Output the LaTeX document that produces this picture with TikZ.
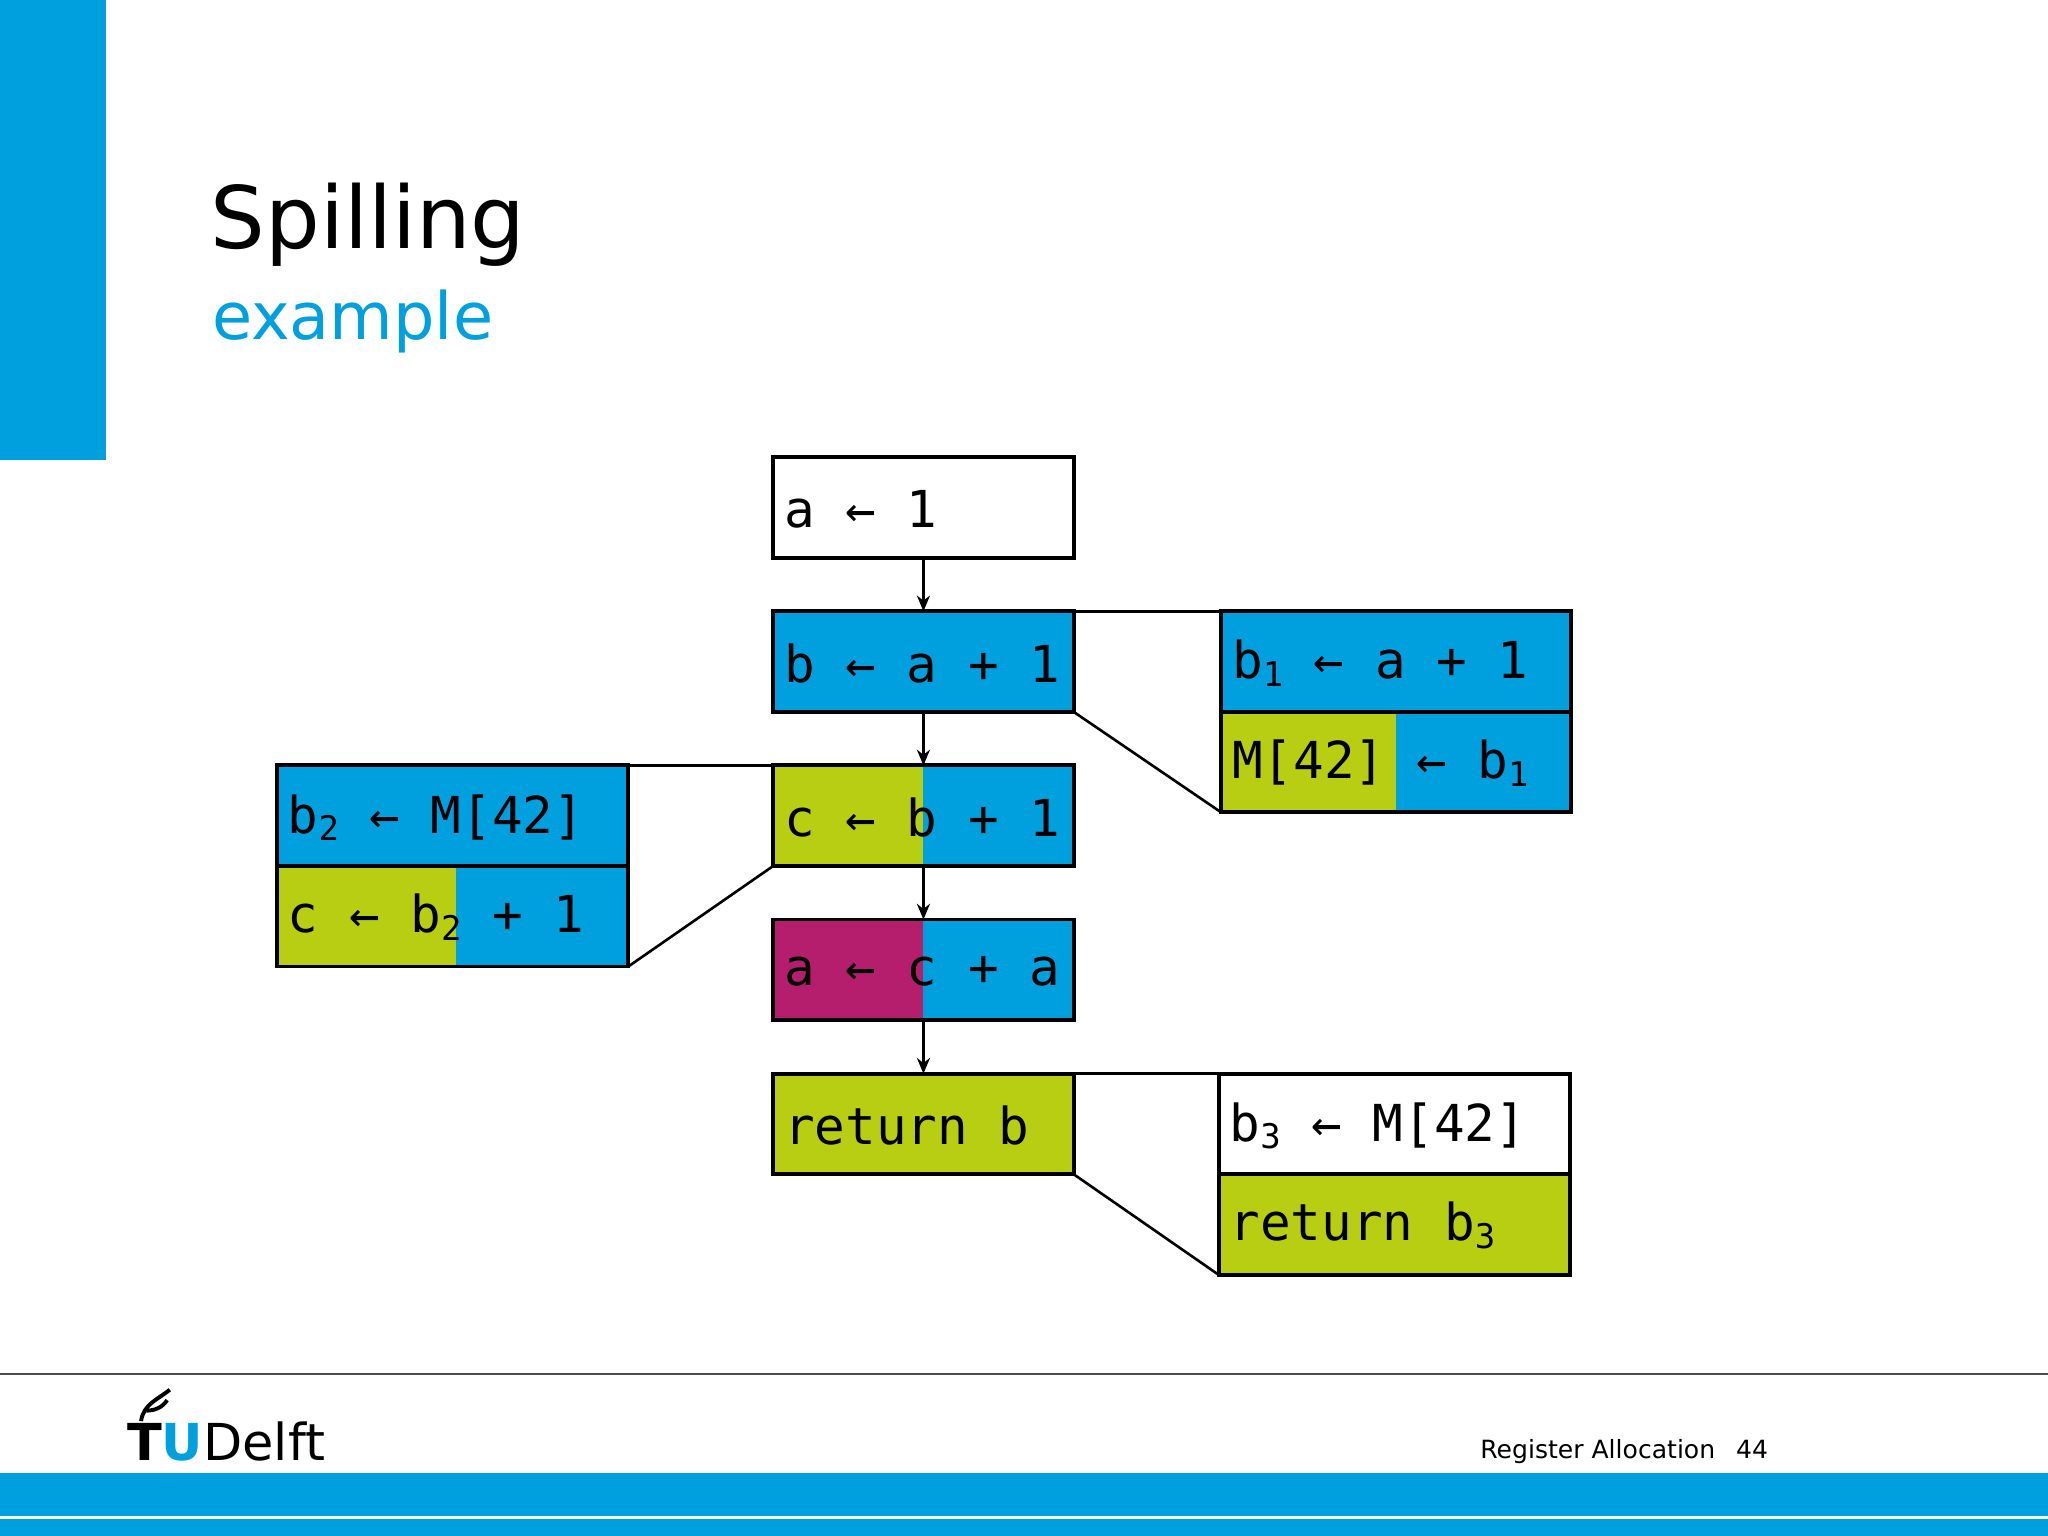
\documentclass[tikz,border=0pt]{standalone}
\usepackage{fontspec}
\setmainfont{DejaVu Sans}
\setmonofont{DejaVu Sans Mono}
\definecolor{tublue}{HTML}{00A0DE}
\definecolor{tugreen}{HTML}{B8CE12}
\definecolor{tumag}{HTML}{B41E6C}
\newcommand{\mysub}[1]{{\fontsize{13}{13}\selectfont\raisebox{-3pt}{#1}}}
\tikzset{
  cell/.style={draw=black,line width=1.5pt},
  code/.style={anchor=west,inner sep=0pt,font=\ttfamily\fontsize{19.5}{19.5}\selectfont},
  flow/.style={-{Stealth[length=6pt,width=5pt]},line width=1pt},
  link/.style={line width=1pt}
}
\usetikzlibrary{arrows.meta}
\begin{document}
\begin{tikzpicture}[x=0.5pt,y=-0.5pt]
\useasboundingbox (0,0) rectangle (1568,1176);
\fill[tublue] (0,0) rectangle (81,352);
\node[anchor=base west,inner sep=0pt,font=\fontsize{33}{33}\selectfont] (title) at (161,190) {Spilling};
\node[anchor=base west,inner sep=0pt,font=\fontsize{25}{25}\selectfont,text=tublue] (sub) at (162,260) {example};
% box 1
\draw[cell,fill=white] (592,350) rectangle (822,427);
\coordinate (b1t) at (707,350); \coordinate (b1b) at (707,427);
\node[code] (t1) at (600,390) {a ← 1};
% box 2
\draw[cell,fill=tublue] (592,468) rectangle (822,545);
\coordinate (b2t) at (707,468); \coordinate (b2b) at (707,545);
\node[code] (t2) at (600,508) {b ← a + 1};
% box 3
\fill[tugreen] (592,586) rectangle (707,663);
\fill[tublue] (707,586) rectangle (822,663);
\draw[cell] (592,586) rectangle (822,663);
\coordinate (b3t) at (707,586); \coordinate (b3b) at (707,663);
\node[code] (t3) at (600,626) {c ← b + 1};
% box 4
\fill[tumag] (592,704) rectangle (707,781);
\fill[tublue] (707,704) rectangle (822,781);
\draw[cell] (592,704) rectangle (822,781);
\coordinate (b4t) at (707,704); \coordinate (b4b) at (707,781);
\node[code] (t4) at (600,744) {a ← c + a};
% box 5
\draw[cell,fill=tugreen] (592,822) rectangle (822,899);
\coordinate (b5t) at (707,822);
\node[code] (t5) at (600,862) {return b};
\draw[flow] (b1b) -- (b2t);
\draw[flow] (b2b) -- (b3t);
\draw[flow] (b3b) -- (b4t);
\draw[flow] (b4b) -- (b5t);
% right upper
\draw[cell,fill=tublue] (935,468) rectangle (1203,545);
\node[code] (r1) at (943,508) {b\mysub{1} ← a + 1};
\fill[tugreen] (935,545) rectangle (1069,622);
\fill[tublue] (1069,545) rectangle (1203,622);
\draw[cell] (935,545) rectangle (1203,622);
\node[code] (r2) at (943,584) {M[42] ← b\mysub{1}};
\draw[link] (822,468) -- (935,468);
\draw[link] (822,545) -- (935,622);
% left
\draw[cell,fill=tublue] (212,586) rectangle (481,663);
\node[code] (l1) at (220,626) {b\mysub{2} ← M[42]};
\fill[tugreen] (212,663) rectangle (349,740);
\fill[tublue] (349,663) rectangle (481,740);
\draw[cell] (212,663) rectangle (481,740);
\node[code] (l2) at (220,702) {c ← b\mysub{2} + 1};
\draw[link] (481,586) -- (592,586);
\draw[link] (481,740) -- (592,663);
% right lower
\draw[cell,fill=white] (933,822) rectangle (1202,899);
\node[code] (s1) at (941,862) {b\mysub{3} ← M[42]};
\draw[cell,fill=tugreen] (933,899) rectangle (1202,976);
\node[code] (s2) at (941,938) {return b\mysub{3}};
\draw[link] (822,822) -- (933,822);
\draw[link] (822,899) -- (933,976);
% footer
\draw[black!70,line width=0.6pt] (0,1052) -- (1568,1052);
\fill[tublue] (0,1128) rectangle (1568,1176);
\draw[white,line width=1pt] (0,1162) -- (1568,1162);
\node[anchor=base west,inner sep=0pt,font=\fontsize{9.6}{9.6}\selectfont] (foot) at (1133,1117) {Register Allocation\hspace{8pt}44};
\node[anchor=base west,inner sep=0pt,font=\fontsize{19.5}{19.5}\selectfont] (logo) at (97,1118) {\textbf{T}\textcolor{tublue}{\textbf{U}}Delft};
\draw[line width=1.5pt] (108,1088) .. controls (110,1075) and (120,1072) .. (130,1064);
\draw[line width=1.5pt] (112,1080) .. controls (118,1080) and (124,1078) .. (128,1072);
\end{tikzpicture}
\end{document}
